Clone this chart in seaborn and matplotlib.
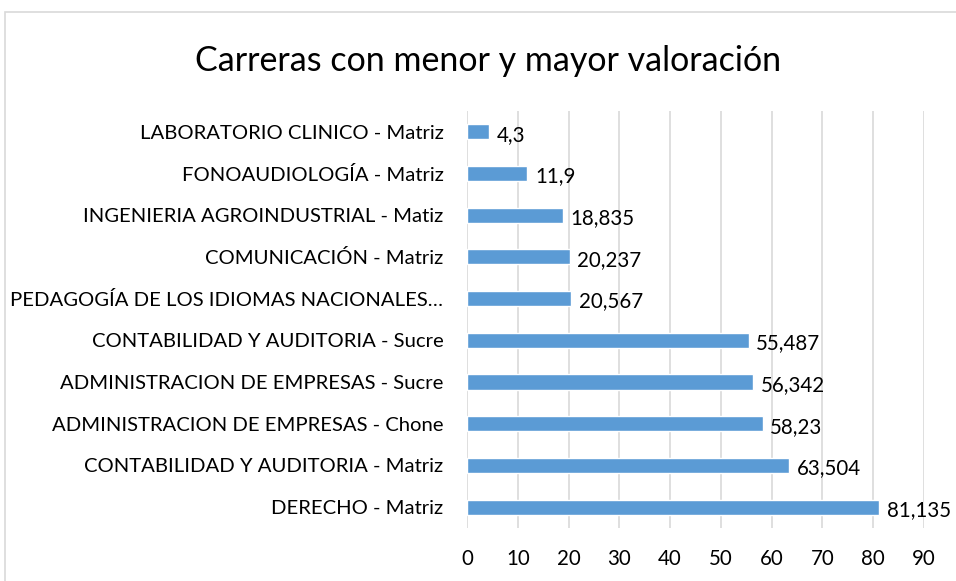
import matplotlib
matplotlib.use("Agg")
import matplotlib.pyplot as plt
import seaborn as sns
import pandas as pd
from matplotlib.patches import Rectangle

# datos (de arriba hacia abajo)
carreras = [
    "LABORATORIO CLINICO - Matriz",
    "FONOAUDIOLOGÍA - Matriz",
    "INGENIERIA AGROINDUSTRIAL - Matiz",
    "COMUNICACIÓN - Matriz",
    "PEDAGOGÍA DE LOS IDIOMAS NACIONALES…",
    "CONTABILIDAD Y AUDITORIA - Sucre",
    "ADMINISTRACION DE EMPRESAS - Sucre",
    "ADMINISTRACION DE EMPRESAS - Chone",
    "CONTABILIDAD Y AUDITORIA - Matriz",
    "DERECHO - Matriz",
]
valores = [4.3, 11.9, 18.835, 20.237, 20.567, 55.487, 56.342, 58.23, 63.504, 81.135]
ticks_x = [0, 10, 20, 30, 40, 50, 60, 70, 80, 90]

df = pd.DataFrame({"carrera": carreras, "valor": valores})

sns.set_style("white")
plt.rcParams["font.family"] = ["Lato", "DejaVu Sans"]

fig = plt.figure(figsize=(9.56, 5.81), dpi=100)
ax = fig.add_axes([0.4885, 0.0912, 0.478, 0.718])

sns.barplot(data=df, x="valor", y="carrera", order=carreras, color="#5B9BD5",
            saturation=1, width=0.36, ax=ax)

ax.set_xlim(0, 90)
ax.set_xticks(ticks_x)
ax.grid(axis="x", color="#D9D9D9", linewidth=1.2)
ax.set_axisbelow(True)
for s in ax.spines.values():
    s.set_visible(False)
ax.set_xlabel("")
ax.set_ylabel("")
ax.tick_params(axis="both", length=0, labelsize=14.8, colors="black")
ax.tick_params(axis="y", labelsize=14.6, pad=17)
ax.tick_params(axis="x", pad=15)

for i, v in enumerate(valores):
    ax.text(v + 1.5, i + 0.07, f"{v:g}".replace(".", ","), va="center", ha="left",
            fontsize=14.8, color="black", clip_on=False)

fig.text(0.511, 1 - 61 / 581, "Carreras con menor y mayor valoración",
         ha="center", va="center", fontsize=24.5, color="black")

# borde del gráfico
fig.patches.append(Rectangle((5 / 956, -0.01), 1.0, 1 - 12 / 581 + 0.01,
                             transform=fig.transFigure, fill=False,
                             edgecolor="#D9D9D9", linewidth=1.2))

fig.savefig("out.png", dpi=100)
